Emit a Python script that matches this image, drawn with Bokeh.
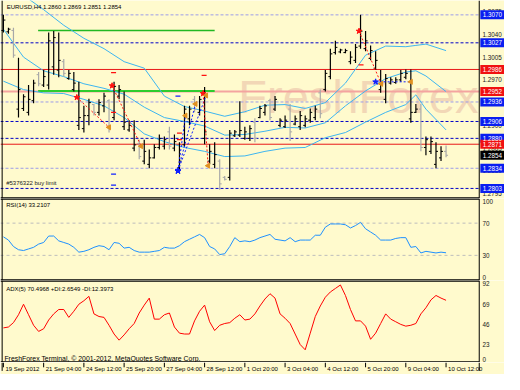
from bokeh.plotting import figure
from bokeh.layouts import column
from bokeh.models import ColumnDataSource, Range1d
from bokeh.core.properties import value
from bokeh.embed import file_html
from bokeh.resources import INLINE
import math

# ---------------- data ----------------
bar_high = [1.3070, 1.3050, 1.3050, 1.3004, 1.2948, 1.2962, 1.2970, 1.2982, 1.2985, 1.3043,
            1.3045, 1.3043, 1.3002, 1.2985, 1.2982, 1.2967, 1.2930, 1.2941, 1.2933, 1.2940,
            1.2950, 1.2940, 1.2967, 1.2962, 1.2952, 1.2908, 1.2908, 1.2878, 1.2878, 1.2863,
            1.2871, 1.2886, 1.2883, 1.2898, 1.2886, 1.2874, 1.2930, 1.2930, 1.2945, 1.2945,
            1.2959, 1.2871, 1.2874, 1.2848, 1.2822, 1.2893, 1.2893, 1.2937, 1.2898, 1.2900,
            1.2911, 1.2930, 1.2933, 1.2941, 1.2945, 1.2911, 1.2915, 1.2933, 1.2915, 1.2922,
            1.2915, 1.2926, 1.2930, 1.2955, 1.2985, 1.3018, 1.3030, 1.3018, 1.3018, 1.3014,
            1.3025, 1.3070, 1.3045, 1.3023, 1.3014, 1.2985, 1.2979, 1.2974, 1.2974, 1.2985,
            1.2986, 1.2986, 1.2933, 1.2933, 1.2883, 1.2883, 1.2874, 1.2868, 1.2869]
bar_low = [1.3043, 1.3041, 1.3004, 1.2912, 1.2922, 1.2915, 1.2934, 1.2960, 1.2959, 1.2955,
           1.2978, 1.2974, 1.2975, 1.2970, 1.2952, 1.2893, 1.2889, 1.2900, 1.2915, 1.2915,
           1.2920, 1.2889, 1.2908, 1.2940, 1.2893, 1.2890, 1.2860, 1.2848, 1.2840, 1.2834,
           1.2849, 1.2863, 1.2863, 1.2863, 1.2860, 1.2827, 1.2867, 1.2900, 1.2920, 1.2915,
           1.2871, 1.2840, 1.2834, 1.2801, 1.2815, 1.2815, 1.2882, 1.2882, 1.2878, 1.2876,
           1.2874, 1.2911, 1.2915, 1.2908, 1.2922, 1.2897, 1.2896, 1.2876, 1.2900, 1.2893,
           1.2897, 1.2904, 1.2908, 1.2911, 1.2952, 1.2971, 1.3009, 1.3011, 1.3011, 1.2994,
           1.2996, 1.3018, 1.3014, 1.3000, 1.2985, 1.2950, 1.2934, 1.2963, 1.2964, 1.2967,
           1.2971, 1.2904, 1.2919, 1.2860, 1.2854, 1.2856, 1.2834, 1.2845, 1.2851]
bar_open = [1.3046, 1.3044, 1.3046, 1.2925, 1.2926, 1.2920, 1.2938, 1.2978, 1.2962, 1.2962,
            1.2990, 1.2985, 1.2998, 1.2972, 1.2955, 1.2900, 1.2895, 1.2915, 1.2932, 1.2920,
            1.2930, 1.2938, 1.2912, 1.2945, 1.2898, 1.2893, 1.2865, 1.2872, 1.2845, 1.2840,
            1.2850, 1.2866, 1.2868, 1.2890, 1.2865, 1.2835, 1.2870, 1.2910, 1.2940, 1.2920,
            1.2880, 1.2845, 1.2840, 1.2845, 1.2820, 1.2820, 1.2884, 1.2885, 1.2880, 1.2880,
            1.2905, 1.2912, 1.2920, 1.2938, 1.2925, 1.2900, 1.2898, 1.2925, 1.2902, 1.2898,
            1.2900, 1.2908, 1.2912, 1.2950, 1.2955, 1.2975, 1.3012, 1.3013, 1.3012, 1.2998,
            1.3000, 1.3022, 1.3018, 1.3003, 1.2988, 1.2955, 1.2940, 1.2965, 1.2966, 1.2970,
            1.2974, 1.2910, 1.2920, 1.2925, 1.2866, 1.2860, 1.2840, 1.2850, 1.2860]
bar_close = [1.3062, 1.3048, 1.3008, 1.2955, 1.2944, 1.2940, 1.2965, 1.2964, 1.2975, 1.3030,
             1.3035, 1.3000, 1.2980, 1.2980, 1.2965, 1.2912, 1.2915, 1.2935, 1.2920, 1.2935,
             1.2945, 1.2895, 1.2960, 1.2955, 1.2905, 1.2900, 1.2870, 1.2852, 1.2860, 1.2850,
             1.2866, 1.2880, 1.2878, 1.2868, 1.2875, 1.2845, 1.2925, 1.2925, 1.2925, 1.2940,
             1.2890, 1.2860, 1.2855, 1.2810, 1.2817, 1.2888, 1.2890, 1.2892, 1.2890, 1.2895,
             1.2880, 1.2926, 1.2930, 1.2912, 1.2940, 1.2908, 1.2908, 1.2890, 1.2910, 1.2915,
             1.2910, 1.2920, 1.2925, 1.2918, 1.2980, 1.3010, 1.3020, 1.3016, 1.3015, 1.3005,
             1.3020, 1.3045, 1.3030, 1.3015, 1.3000, 1.2965, 1.2972, 1.2970, 1.2970, 1.2980,
             1.2980, 1.2920, 1.2925, 1.2866, 1.2878, 1.2875, 1.2860, 1.2860, 1.2854]

band_idx = [0, 4, 8, 12, 16, 20, 24, 28, 32, 36, 40, 44, 48, 52, 56, 60, 64, 68, 72, 76, 80, 82, 84, 88]
band_upper = [1.3125, 1.3100, 1.3078, 1.3054, 1.3034, 1.3018, 1.2998, 1.2988, 1.2945, 1.2929,
              1.2922, 1.2914, 1.2921, 1.2931, 1.2932, 1.2926, 1.2935, 1.2965, 1.3008, 1.3022,
              1.3021, 1.3023, 1.3025, 1.3015]
band_middle = [1.3048, 1.3005, 1.2984, 1.2975, 1.2964, 1.2957, 1.2948, 1.2928, 1.2912, 1.2906,
               1.2899, 1.2885, 1.2886, 1.2891, 1.2897, 1.2896, 1.2904, 1.2930, 1.2953, 1.2972,
               1.2982, 1.2984, 1.2976, 1.2952]
band_lower = [1.2968, 1.2955, 1.2950, 1.2949, 1.2940, 1.2930, 1.2912, 1.2887, 1.2875, 1.2866,
              1.2860, 1.2852, 1.2853, 1.2860, 1.2865, 1.2866, 1.2881, 1.2889, 1.2905, 1.2920,
              1.2932, 1.2947, 1.2925, 1.2893]

rsi_values = [53, 49, 41, 37, 36, 38, 40, 44, 46, 54, 54, 48, 46, 44, 40, 34, 35, 37, 40, 42,
              41, 37, 46, 45, 39, 40, 36, 34, 34, 34, 35, 36, 40, 39, 39, 42, 47, 50, 53, 56,
              52, 41, 38, 31, 32, 41, 52, 47, 48, 47, 49, 52, 54, 56, 50, 49, 48, 52, 47, 49,
              49, 49, 55, 55, 65, 69, 69, 69, 68, 64, 67, 71, 63, 59, 55, 49, 49, 49, 51, 52,
              52, 40, 41, 33, 35, 34, 33, 34, 33.2107]
adx_values = [39, 40, 45, 54, 66, 54, 42, 35, 38, 48, 55, 60, 60, 51, 58, 66, 70, 75, 55, 52,
              51, 42, 32, 25, 31, 38, 44, 56, 65, 73, 49, 49, 54, 56, 40, 33, 32, 32, 47, 58,
              65, 46, 36, 42, 44, 45, 50, 54, 48, 49, 55, 64, 72, 78, 73, 55, 50, 44, 32, 20,
              14, 33, 52, 64, 74, 80, 84, 88, 76, 60, 47, 47, 41, 26, 33, 44, 55, 49, 46, 43,
              41, 42, 44, 55, 62, 71, 76, 73, 70.4968]

time_tick_idx = [0, 8, 16, 24, 32, 40, 48, 56, 64, 72, 80, 88]
time_tick_labels = ["19 Sep 2012", "21 Sep 04:00", "24 Sep 12:00", "25 Sep 20:00", "27 Sep 04:00",
                    "28 Sep 12:00", "1 Oct 20:00", "3 Oct 04:00", "4 Oct 12:00", "5 Oct 20:00",
                    "9 Oct 04:00", "10 Oct 12:00"]

price_ticks = [1.3075, 1.3040, 1.3005, 1.2970, 1.2935, 1.2900, 1.2865, 1.2830, 1.2795]
level_prices = [1.3070, 1.3027, 1.2986, 1.2952, 1.2936, 1.2906, 1.2880, 1.2871, 1.2834, 1.2803]
level_kinds = ["tp", "order", "stop", "sl", "tp", "order", "order", "stop", "tp", "order"]
tag_prices = [1.3070, 1.3027, 1.2986, 1.2952, 1.2936, 1.2906, 1.2880, 1.2871, 1.2854, 1.2834, 1.2803]
tag_kinds = ["blue", "blue", "red", "red", "blue", "blue", "blue", "red", "bid", "blue", "blue"]
green_prices = [1.3046, 1.2953]
green_start, green_end = 6.9, 42.0

trade_x0 = [14.6, 21.6, 34.7, 34.7, 34.7, 39.7, 70.7, 74.0]
trade_y0 = [1.2943, 1.2961, 1.2830, 1.2830, 1.2830, 1.2949, 1.3045, 1.2967]
trade_x1 = [21.0, 27.4, 36.2, 38.2, 40.3, 40.7, 75.1, 81.0]
trade_y1 = [1.2897, 1.2868, 1.2915, 1.2933, 1.2946, 1.2838, 1.2964, 1.2967]
trade_side = ["sell", "sell", "buy", "buy", "buy", "sell", "sell", "buy"]

order_x = [21.9, 21.9, 39.9, 35.0, 35.0, 71.1, 21.9, 21.9, 34.7]
order_y = [1.2981, 1.2920, 1.2977, 1.2888, 1.2878, 1.2993, 1.2825, 1.2808, 1.2945]
order_side = ["sell", "sell", "sell", "sell", "sell", "sell", "buy", "buy", "buy"]

rsi_levels = [70, 30]
rsi_ticks = [100, 70, 30, 0]
adx_ticks = [92, 69, 46, 23, 0]

# ---------------- layout / style ----------------
BG = "#FFFACD"
FONT = value("Liberation Sans")
W = 504
XR = Range1d(-0.577, 99.62)
XL, XB = -0.577, 94.6          # plot area left edge and right border (bar index)
XTAG, XTICK = 97.2, 95.25


def make_fig(h, y0, y1):
    f = figure(width=W, height=h, x_range=XR, y_range=Range1d(y0, y1),
               x_axis_type=None, y_axis_type=None, toolbar_location=None,
               output_backend="svg", min_border=0)
    f.background_fill_color = BG
    f.border_fill_color = BG
    f.outline_line_color = None
    f.grid.visible = False
    return f


def borders(f, y0, y1, top=True):
    f.segment(x0=[XB], y0=[y0], x1=[XB], y1=[y1], line_color="black", line_width=1)
    f.segment(x0=[-0.25], y0=[y0], x1=[-0.25], y1=[y1], line_color="black", line_width=1)
    f.segment(x0=[XL], y0=[y0], x1=[XB], y1=[y0], line_color="black", line_width=2.5)
    if top:
        f.segment(x0=[XL], y0=[y1], x1=[XB], y1=[y1], line_color="black", line_width=2.5)


# ---------------- main price panel ----------------
MY0, MY1 = 1.27875, 1.30921
pm = make_fig(198, MY0, MY1)

pm.text(x=[46.7], y=[1.2945], text=["FreshForex"], text_font=FONT,
        text_font_size="47px", text_color="#F2D7B6", text_baseline="alphabetic")

line_style = {"order": ("#0000C8", "3 2", 1), "tp": ("#9C9CE8", "3 2", 1),
              "stop": ("#E81818", "solid", 1), "sl": ("#F4A4A0", "solid", 2)}
for pr_, kd in zip(level_prices, level_kinds):
    c, d, w = line_style[kd]
    pm.segment(x0=[XL], y0=[pr_], x1=[XB], y1=[pr_], line_color=c, line_dash=d, line_width=w)

pm.segment(x0=[green_start], y0=[green_prices[0]], x1=[green_end], y1=[green_prices[0]],
           line_color="#22B822", line_width=1.5)
pm.segment(x0=[green_start], y0=[green_prices[1]], x1=[green_end], y1=[green_prices[1]],
           line_color="#2ECC2E", line_width=2)

for band in (band_upper, band_middle, band_lower):
    pm.line(band_idx, band, line_color="#3DB5F0", line_width=1)

idx = list(range(len(bar_close)))
bar_col = ["#000000" if c >= o else "#A8A8A8" for o, c in zip(bar_open, bar_close)]
bsrc = ColumnDataSource(dict(x=idx, hi=bar_high, lo=bar_low, o=bar_open, c=bar_close, col=bar_col,
                             xl=[i - 0.4 for i in idx], xr=[i + 0.4 for i in idx]))
pm.segment(x0="x", y0="lo", x1="x", y1="hi", line_color="col", line_width=1.2, source=bsrc)
pm.segment(x0="xl", y0="o", x1="x", y1="o", line_color="col", line_width=1, source=bsrc)
pm.segment(x0="x", y0="c", x1="xr", y1="c", line_color="col", line_width=1, source=bsrc)

side_col = {"sell": "#FF1010", "buy": "#1020FF"}
tsrc = ColumnDataSource(dict(x0=trade_x0, y0=trade_y0, x1=trade_x1, y1=trade_y1,
                             col=[side_col[s] for s in trade_side]))
pm.segment(x0="x0", y0="y0", x1="x1", y1="y1", line_color="col", line_dash="2 2",
           line_width=1, source=tsrc)
pm.scatter(x="x0", y="y0", marker="star", size=6, fill_color="col", line_color="col", source=tsrc)
pm.scatter(x="x1", y="y1", marker="triangle", angle=math.pi / 2, size=5, fill_color="#E09020",
           line_color="#E09020", source=tsrc)
osrc = ColumnDataSource(dict(x=order_x, y=order_y, col=[side_col[s] for s in order_side]))
pm.scatter(x="x", y="y", marker="dash", size=5, line_color="col", line_width=1.2, source=osrc)

pm.text(x=[0.65], y=[1.30818], text=["EURUSD,H4  1.2860 1.2869 1.2851 1.2854"], text_font=FONT,
        text_font_size="6px", text_color="black", text_baseline="middle")
pm.text(x=[0.55], y=[1.28119], text=["#5376322 buy limit"], text_font=FONT,
        text_font_size="6px", text_color="#202020", text_baseline="middle")

pm.text(x=[XTICK] * len(price_ticks), y=price_ticks, text=["%.4f" % v for v in price_ticks],
        text_font=FONT, text_font_size="6.3px", text_color="#202020", text_baseline="middle")
tag_col = {"blue": "#0A1EF0", "red": "#F01010", "bid": "#000000"}
gsrc = ColumnDataSource(dict(x=[XTAG] * len(tag_prices), y=tag_prices,
                             t=["%.4f" % v for v in tag_prices],
                             col=[tag_col[k] for k in tag_kinds]))
pm.rect(x="x", y="y", width=24, height=9, width_units="screen", height_units="screen",
        fill_color="col", line_color=None, source=gsrc)
pm.text(x="x", y="y", text="t", text_font=FONT, text_font_size="6.3px", text_color="white",
        text_align="center", text_baseline="middle", source=gsrc)
borders(pm, MY0, MY1, top=False)

# ---------------- RSI panel ----------------
RY0, RY1 = -1.2, 100.6
pr = make_fig(82, RY0, RY1)
for lv in rsi_levels:
    pr.segment(x0=[XL], y0=[lv], x1=[XB], y1=[lv], line_color="#BDBDBD", line_dash="3 3", line_width=1)
pr.line(idx, rsi_values, line_color="#1E90FF", line_width=1)
pr.text(x=[0.55], y=[92], text=["RSI(14) 33.2107"], text_font=FONT, text_font_size="6px",
        text_color="black", text_baseline="middle")
rsi_base = ["top" if v == max(rsi_ticks) else "bottom" if v == 0 else "middle" for v in rsi_ticks]
pr.text(x=[XTICK] * len(rsi_ticks), y=rsi_ticks, text=[str(v) for v in rsi_ticks], text_font=FONT,
        text_font_size="6.3px", text_color="#202020", text_baseline=rsi_base)
borders(pr, RY0, RY1)

# ---------------- ADX panel ----------------
AY0, AY1 = -0.5, 93.1
pa = make_fig(82, AY0, AY1)
pa.line(idx, adx_values, line_color="#FF0000", line_width=1)
pa.text(x=[0.55], y=[83], text=["ADX(5) 70.4968 +DI:2.6549 -DI:12.3973"], text_font=FONT,
        text_font_size="6px", text_color="black", text_baseline="middle")
pa.text(x=[0.2], y=[4.5], text=["FreshForex Terminal, \u00a9 2001-2012, MetaQuotes Software Corp."],
        text_font=FONT, text_font_size="6.9px", text_color="black", text_baseline="middle")
adx_base = ["bottom" if v == 0 else "top" for v in adx_ticks]
pa.text(x=[XTICK] * len(adx_ticks), y=adx_ticks, text=[str(v) for v in adx_ticks], text_font=FONT,
        text_font_size="6.3px", text_color="#202020", text_baseline=adx_base)
borders(pa, AY0, AY1)

# ---------------- time axis strip ----------------
pt = make_fig(12, 0, 1)
pt.segment(x0=[XB], y0=[0.3], x1=[XB], y1=[1], line_color="black", line_width=1)
pt.segment(x0=[-0.25], y0=[0.3], x1=[-0.25], y1=[1], line_color="black", line_width=1)
pt.segment(x0=time_tick_idx, y0=[1] * len(time_tick_idx), x1=time_tick_idx,
           y1=[0.6] * len(time_tick_idx), line_color="black", line_width=1)
pt.text(x=time_tick_idx, y=[0.45] * len(time_tick_idx), text=time_tick_labels, text_font=FONT,
        text_font_size="6px", text_color="black", text_baseline="middle", x_offset=2)

layout = column(pm, pr, pa, pt, spacing=0)
open("out.html", "w").write(file_html(layout, INLINE))
